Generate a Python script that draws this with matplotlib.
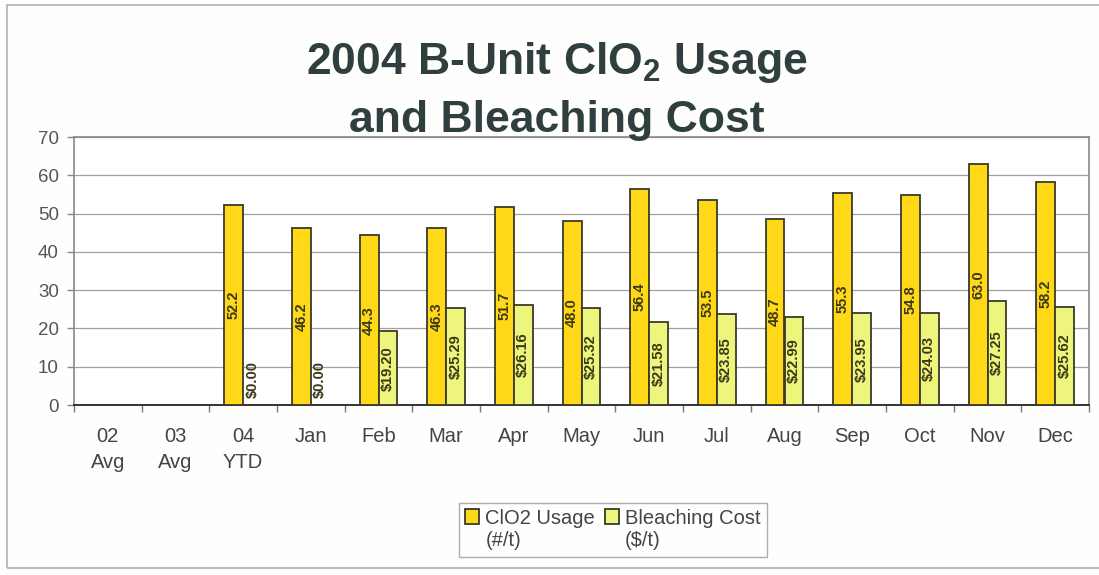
import numpy as np
import matplotlib
matplotlib.use("Agg")
import matplotlib.pyplot as plt
from matplotlib.patches import Rectangle
from matplotlib.ticker import FixedLocator

plt.rcParams["font.family"] = ["Liberation Sans", "DejaVu Sans"]
plt.rcParams["mathtext.fontset"] = "custom"
plt.rcParams["mathtext.rm"] = "Liberation Sans:bold"
plt.rcParams["mathtext.bf"] = "Liberation Sans:bold"

categories = ["02\nAvg", "03\nAvg", "04\nYTD", "Jan", "Feb", "Mar", "Apr", "May",
              "Jun", "Jul", "Aug", "Sep", "Oct", "Nov", "Dec"]
clo2_usage = [None, None, 52.2, 46.2, 44.3, 46.3, 51.7, 48.0, 56.4, 53.5, 48.7,
              55.3, 54.8, 63.0, 58.2]
bleach_cost = [None, None, 0.00, 0.00, 19.20, 25.29, 26.16, 25.32, 21.58, 23.85,
               22.99, 23.95, 24.03, 27.25, 25.62]

gold = "#ffd817"
pale = "#eef57c"
edge = "#3a3a2a"
txt = "#444444"
lblc = "#3a3818"

fig = plt.figure(figsize=(10.99, 5.75), dpi=100)
fig.patch.set_facecolor("#fefefc")
ax = fig.add_axes([74 / 1099, 1 - 405 / 575, 1015 / 1099, 268 / 575])
ax.set_facecolor("white")

x = np.arange(len(categories))
w = 0.28
has_u = [i for i, v in enumerate(clo2_usage) if v is not None]
has_c = [i for i, v in enumerate(bleach_cost) if v is not None]
uvals = [clo2_usage[i] for i in has_u]
cvals = [bleach_cost[i] for i in has_c]

# usage bar sits left of the category centre, cost bar right of it
ax.bar(x[has_u] - w / 2, uvals, w, color=gold, edgecolor=edge,
       linewidth=1.3, zorder=3, label="ClO2 Usage\n(#/t)")
ax.bar(x[has_c] + w / 2, cvals, w, color=pale, edgecolor=edge,
       linewidth=1.3, zorder=3, label="Bleaching Cost\n($/t)")

# value labels, rotated and centred in each bar
lbl = dict(rotation=90, ha="center", fontsize=10.5, fontweight="bold",
           color=lblc, zorder=4)
for i, v in zip(has_u, uvals):
    ax.text(i - w / 2, v / 2, f"{v:.1f}", va="center", **lbl)
for i, v in zip(has_c, cvals):
    if v == 0:
        ax.annotate(f"${v:.2f}", (i + w / 2, 0), xytext=(0, 5),
                    textcoords="offset points", va="bottom", **lbl)
    else:
        ax.text(i + w / 2, v / 2, f"${v:.2f}", va="center", **lbl)

ax.set_xlim(-0.5, len(categories) - 0.5)
ax.set_ylim(0, 70)
ax.set_yticks(range(0, 71, 10))
ax.set_xticks(x)
ax.set_xticklabels(categories, linespacing=1.45)
ax.xaxis.set_minor_locator(FixedLocator(np.arange(-0.5, len(categories), 1)))
ax.tick_params(axis="x", which="major", length=0, pad=16, labelsize=14.5,
               labelcolor=txt)
ax.tick_params(axis="x", which="minor", length=5, width=1, color="#777777",
               direction="out")
ax.tick_params(axis="y", length=5, width=1, color="#888888", pad=6,
               labelsize=13.5, labelcolor="#555555")
ax.yaxis.grid(True, color="#a0a0a0", linewidth=0.9, zorder=0)
ax.set_axisbelow(True)
for s in ["top", "right", "left"]:
    ax.spines[s].set_color("#888888")
    ax.spines[s].set_linewidth(1.2)
ax.spines["bottom"].set_color("#333333")
ax.spines["bottom"].set_linewidth(1.4)

# title in two lines
tcol = "#2f3e3e"
fig.text(557 / 1099, 1 - 74 / 575, r"2004 B-Unit ClO$_\mathbf{2}$ Usage",
         ha="center", va="baseline", fontsize=32, fontweight="bold", color=tcol)
fig.text(557 / 1099, 1 - 132 / 575, "and Bleaching Cost", ha="center",
         va="baseline", fontsize=32, fontweight="bold", color=tcol)

leg = fig.legend(loc="center", bbox_to_anchor=(613 / 1099, 1 - 530 / 575),
                 ncol=2, fontsize=14.5, frameon=True, fancybox=False,
                 edgecolor="#999999", handlelength=0.7, handleheight=0.7,
                 handletextpad=0.3, columnspacing=0.5, borderpad=0.3,
                 labelspacing=0.2, labelcolor=txt)
leg.get_frame().set_linewidth(1.0)
for col in leg._legend_handle_box.get_children():
    for item in col.get_children():
        item.align = "top"

# outer chart border
fig.patches.append(Rectangle((7 / 1099, 7 / 575), 1.2, 1 - 12 / 575,
                             transform=fig.transFigure, fill=False,
                             edgecolor="#b0b0b0", linewidth=1.2))

fig.savefig("out.png", dpi=100, facecolor=fig.get_facecolor())
